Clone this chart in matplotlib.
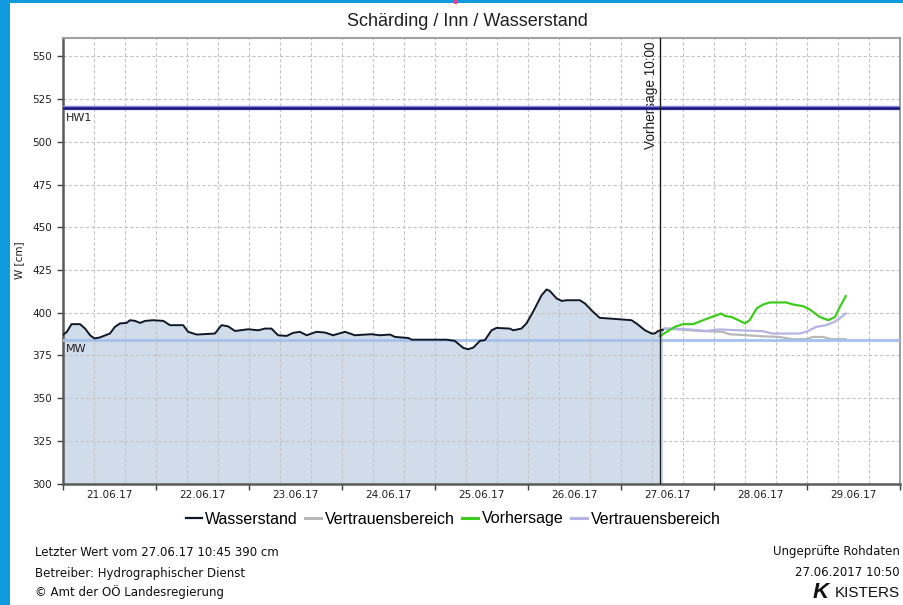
import matplotlib
matplotlib.use("Agg")
import matplotlib.pyplot as plt
from matplotlib.patches import Rectangle
from matplotlib.lines import Line2D
from datetime import datetime, timedelta

plt.rcParams['font.family'] = ['Liberation Sans', 'DejaVu Sans']

# ---------------- data ----------------
start = datetime(2017, 6, 21, 0, 0)
# Wasserstand: hours since 21.06.17 00:00, values in cm
ws_hours = [0, 1, 2.2, 4.4, 5.7, 7, 8.1, 9.5, 12.1, 13.4, 14.7, 16.4, 17.3, 18.6, 19.9,
            21.2, 23.3, 25.9, 27.6, 31, 32.3, 34.5, 39.2, 40.9, 42.6, 44.4, 47.8, 50.4,
            52.1, 53.8, 55.5, 57.7, 59.4, 61.1, 62.9, 65.4, 67.6, 69.7, 72.8, 75.3, 79.6,
            81.8, 84.4, 85.7, 89.1, 90, 99, 101.1, 103.3, 104.6, 105.9, 107.6, 108.9,
            110.6, 111.9, 115.3, 116.2, 118.3, 119.6, 121.3, 123.5, 124.8, 125.6, 127.4,
            128.7, 130, 133.4, 134.7, 136.8, 138.5, 143.3, 146.7, 148, 150.2, 151.9,
            152.7, 153.6, 154.75]
ws_vals = [387, 388.8, 393.3, 393.3, 390.7, 386.8, 384.9, 385.5, 387.8, 391.7, 393.7, 394,
           395.6, 395.2, 394, 395.2, 395.6, 395.2, 392.7, 392.7, 388.8, 387.2, 387.8, 392.7,
           392, 389.3, 390.3, 389.7, 390.7, 390.7, 386.8, 386.4, 388.2, 388.8, 386.8, 388.8,
           388.4, 386.8, 388.8, 386.8, 387.4, 386.8, 387.2, 385.8, 385.2, 384.2, 384.2,
           383.5, 379.4, 378.6, 379.6, 383.5, 384, 389.7, 391.1, 390.7, 389.7, 390.7, 393.7,
           400.5, 410.2, 413.6, 412.8, 408.3, 406.9, 407.3, 407.3, 405.4, 400.5, 397, 396.2,
           395.6, 393.7, 389.7, 387.8, 387.8, 389.3, 390]

# Vorhersage (forecast)
vh_hours = [154, 155.8, 157.9, 160, 162.6, 165.2, 167.4, 169.9, 170.8, 172.5, 174.7, 176,
            177.2, 179, 180.7, 182.4, 186.7, 188.4, 191, 192.7, 195.3, 197.5, 199.2, 200.5, 202]
vh_vals = [386.2, 388.8, 391.7, 393.3, 393.3, 395.6, 397.5, 399.5, 398.1, 397.5, 395.2, 393.7,
           395.6, 402.5, 404.8, 406, 406, 404.8, 403.8, 401.9, 397.5, 395.6, 397.5, 403.4, 409.7]

# Vertrauensbereich (upper, lavender)
vb_hi_hours = [154, 155.1, 157.3, 161.6, 165.9, 169.4, 174.5, 180.5, 183.1, 190, 191.8,
               194.4, 196.9, 199.1, 200.4, 202]
vb_hi_vals = [387.8, 390.7, 390.7, 390.2, 389.3, 390.2, 389.7, 389.2, 387.8, 387.8, 388.8,
              391.7, 392.7, 394.6, 396.6, 399.5]

# Vertrauensbereich (lower, gray)
vb_lo_hours = [154, 155.1, 159, 164.2, 170.2, 172, 176.3, 180.5, 184.8, 188.3, 191.8,
               193.5, 196.1, 198.2, 202]
vb_lo_vals = [387.8, 390.7, 390.2, 389.3, 388.8, 387.4, 386.8, 386.2, 385.8, 384.5, 384.5,
              385.8, 385.8, 384.5, 384.5]

HW1 = 520
MW = 384
forecast_hour = 154  # 27.06.17 10:00

day_labels = ["21.06.17", "22.06.17", "23.06.17", "24.06.17", "25.06.17",
              "26.06.17", "27.06.17", "28.06.17", "29.06.17"]
y_ticks = [300, 325, 350, 375, 400, 425, 450, 475, 500, 525, 550]


def to_dt(hours):
    return [start + timedelta(hours=h) for h in hours]


SMALL = ['DejaVu Sans']

# ---------------- figure ----------------
fig = plt.figure(figsize=(9.04, 6.05), dpi=100)
fig.patch.set_facecolor('white')

# blue frame
fig.add_artist(Rectangle((0, 0), 10 / 904, 1, transform=fig.transFigure,
                         facecolor='#0f9ade', edgecolor='none', zorder=0))
fig.add_artist(Rectangle((0, 1 - 3 / 605), 1, 3 / 605, transform=fig.transFigure,
                         facecolor='#0f9ade', edgecolor='none', zorder=0))
fig.add_artist(Rectangle((454 / 904, 1 - 4 / 605), 3 / 904, 4 / 605, transform=fig.transFigure,
                         facecolor='#e8409a', edgecolor='none', zorder=1))

ax = fig.add_axes([63 / 904, (605 - 483.5) / 605, (900 - 63) / 904, (483.5 - 37.7) / 605])

ws_t = to_dt(ws_hours)
ax.fill_between(ws_t, 300, ws_vals, color='#d0dcea', lw=0, zorder=1)
ax.plot(ws_t, ws_vals, color='#101828', lw=1.4, zorder=5)

ax.plot(to_dt(vb_lo_hours), vb_lo_vals, color='#b8b8b8', lw=1.6, zorder=3)
ax.plot(to_dt(vb_hi_hours), vb_hi_vals, color='#b4b4e6', lw=1.6, zorder=3)
ax.plot(to_dt(vh_hours), vh_vals, color='#3ccc1c', lw=1.6, zorder=4)

# threshold lines
ax.axhline(HW1, color='#8a8ae0', lw=3.2, zorder=4)
ax.axhline(HW1, color='#15157a', lw=1.8, zorder=4)
ax.axhline(MW, color='#a6c0ec', lw=2.0, zorder=4)
ax.text(start + timedelta(hours=0.8), HW1 - 3, "HW1", fontsize=8, va='top', ha='left',
        color='#202020', family=SMALL)
ax.text(start + timedelta(hours=0.8), MW - 2.5, "MW", fontsize=8, va='top', ha='left',
        color='#202020', family=SMALL)

# forecast line
fdt = start + timedelta(hours=forecast_hour)
ax.axvline(fdt, color='#202020', lw=1.0, zorder=6)
ax.text(fdt - timedelta(hours=0.4), 558.5, "Vorhersage 10:00", rotation=90, fontsize=9.8,
        ha='right', va='top', color='#202020')

# axes limits
ax.set_xlim(start, start + timedelta(days=9))
ax.set_ylim(300, 561)

# ticks
major = [start + timedelta(days=d) for d in range(10)]
ax.set_xticks(major)
ax.set_xticklabels([])
ax.set_xticks([start + timedelta(hours=12 + 24 * i) for i in range(9)], minor=True)
ax.set_xticklabels(day_labels, minor=True, family=SMALL)
ax.tick_params(axis='x', which='minor', length=0, labelsize=7.5, pad=5, colors='#202020')
ax.tick_params(axis='x', which='major', length=4, width=1, color='#404040', direction='out')
ax.set_yticks(y_ticks)
ax.set_yticklabels([str(v) for v in y_ticks], family=SMALL)
ax.tick_params(axis='y', length=4, width=1, color='#404040', labelsize=7.5, pad=4,
               labelcolor='#202020')

# grid: every 8 hours vertically and each y tick
for k in range(1, 27):
    ax.axvline(start + timedelta(hours=8 * k), color='#c4c4c4', lw=0.8,
               ls=(0, (3, 2)), zorder=2)
for v in y_ticks[1:]:
    ax.axhline(v, color='#c4c4c4', lw=0.8, ls=(0, (3, 2)), zorder=2)

for side in ['left', 'bottom']:
    ax.spines[side].set_color('#5a5a5a')
    ax.spines[side].set_linewidth(1.8)
for side in ['top', 'right']:
    ax.spines[side].set_color('#a0a0a0')
    ax.spines[side].set_linewidth(1.5)

ax.set_ylabel("W [cm]", fontsize=7.5, labelpad=6, color='#202020', family=SMALL)
fig.text(467 / 904, 1 - 22 / 605, "Schärding / Inn / Wasserstand", fontsize=13,
         ha='center', va='center', color='#202020')

# legend
handles = [Line2D([], [], color='#101828', lw=1.6),
           Line2D([], [], color='#b8b8b8', lw=2.2),
           Line2D([], [], color='#3ccc1c', lw=2.2),
           Line2D([], [], color='#b4b4e6', lw=2.2)]
labels = ["Wasserstand", "Vertrauensbereich", "Vorhersage", "Vertrauensbereich"]
fig.legend(handles, labels, loc='center', bbox_to_anchor=(453 / 904, 1 - 519 / 605), ncol=4,
           frameon=False, fontsize=11.5, handlelength=1.0, handletextpad=0.2,
           columnspacing=0.5)

# footer
fs = 8.5
fig.text(35 / 904, 1 - 552 / 605, "Letzter Wert vom 27.06.17 10:45 390 cm", fontsize=fs,
         va='center', ha='left', color='#101010', family=SMALL)
fig.text(35 / 904, 1 - 573 / 605, "Betreiber: Hydrographischer Dienst", fontsize=fs,
         va='center', ha='left', color='#101010', family=SMALL)
fig.text(35 / 904, 1 - 592 / 605, "© Amt der OÖ Landesregierung", fontsize=fs,
         va='center', ha='left', color='#101010', family=SMALL)
fig.text(900 / 904, 1 - 552 / 605, "Ungeprüfte Rohdaten", fontsize=fs, va='center', ha='right',
         color='#101010', family=SMALL)
fig.text(900 / 904, 1 - 573 / 605, "27.06.2017 10:50", fontsize=fs, va='center', ha='right',
         color='#101010', family=SMALL)
fig.text(900 / 904, 1 - 593 / 605, "KISTERS", fontsize=11, va='center', ha='right',
         color='#101010', family=['Liberation Sans'])
fig.text(829 / 904, 1 - 593 / 605, "K", fontsize=16, va='center', ha='right',
         color='#101010', fontweight='bold', style='italic')

fig.savefig("out.png", dpi=100)
